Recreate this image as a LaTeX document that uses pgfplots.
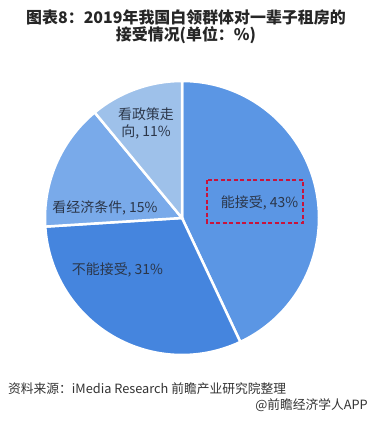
\documentclass[border=0pt]{standalone}
\usepackage{pgfplots}
\pgfplotsset{compat=1.18}
\usepackage{fontspec}
\setmainfont{Noto Sans CJK SC}
\definecolor{c1}{HTML}{5B96E4}
\definecolor{c2}{HTML}{4585DE}
\definecolor{c3}{HTML}{79AAEA}
\definecolor{c4}{HTML}{9EC1EA}
\definecolor{lab}{HTML}{2B3649}
\definecolor{boxred}{HTML}{C8143C}
\definecolor{ttl}{HTML}{262626}
\definecolor{src}{HTML}{333333}
\begin{document}
\begin{tikzpicture}
\fill[white] (0bp,0bp) rectangle (371bp,421bp);
\path[use as bounding box] (0bp,0bp) rectangle (371bp,421bp);
\begin{axis}[at={(182bp,203bp)}, anchor=center, scale only axis,
  width=274bp, height=274bp, xmin=-1, xmax=1, ymin=-1, ymax=1,
  hide axis, clip=false]
% slices: values 43, 31, 15, 11 (%), clockwise from top
\filldraw[fill=c1, draw=white, line width=2.5bp] (axis cs:0,0) -- ++(90:137bp)
  arc[start angle=90, delta angle=-3.6*43, radius=137bp] -- cycle;
\filldraw[fill=c2, draw=white, line width=2.5bp] (axis cs:0,0) -- ++(90-3.6*43:137bp)
  arc[start angle=90-3.6*43, delta angle=-3.6*31, radius=137bp] -- cycle;
\filldraw[fill=c3, draw=white, line width=2.5bp] (axis cs:0,0) -- ++(90-3.6*74:137bp)
  arc[start angle=90-3.6*74, delta angle=-3.6*15, radius=137bp] -- cycle;
\filldraw[fill=c4, draw=white, line width=2.5bp] (axis cs:0,0) -- ++(90-3.6*89:137bp)
  arc[start angle=90-3.6*89, delta angle=-3.6*11, radius=137bp] -- cycle;
\draw[boxred, line width=1.6bp, dash pattern=on 4bp off 2.5bp]
  (axis cs:0.182,0.277) rectangle (axis cs:0.883,-0.036);
\node[text=lab, font=\fontsize{14}{17}\selectfont] at (axis cs:0.566,0.109) {能接受, 43\%};
\node[text=lab, font=\fontsize{14}{17}\selectfont] at (axis cs:-0.471,-0.380) {不能接受, 31\%};
\node[text=lab, font=\fontsize{14}{17}\selectfont] at (axis cs:-0.562,0.073) {看经济条件, 15\%};
\node[text=lab, font=\fontsize{14}{17}\selectfont, align=center] at (axis cs:-0.263,0.693) {看政策走\\向, 11\%};
\end{axis}
\node[text=ttl, font=\bfseries\fontsize{16}{15.5}\selectfont, align=center] at (186bp,394.5bp)
  {图表8：2019年我国白领群体对一辈子租房的\\接受情况(单位：\%)};
\node[text=src, font=\fontsize{12.8}{15}\selectfont, anchor=west, inner sep=0pt] at (8bp,32bp)
  {资料来源：iMedia Research 前瞻产业研究院整理};
\node[text=src, font=\fontsize{12.8}{15}\selectfont, anchor=east, inner sep=0pt] at (368bp,16bp)
  {@前瞻经济学人APP};
\end{tikzpicture}
\end{document}
